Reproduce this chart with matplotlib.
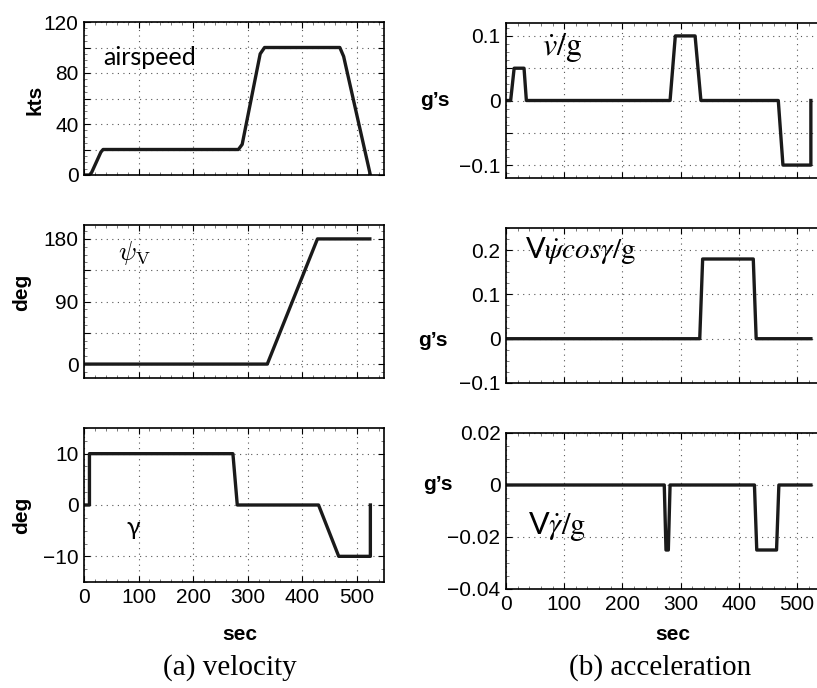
import matplotlib
matplotlib.use('Agg')
import matplotlib.pyplot as plt
from matplotlib.ticker import AutoMinorLocator

plt.rcParams['font.family'] = ['Liberation Sans', 'DejaVu Sans']
plt.rcParams['font.size'] = 15

# (a) velocity
airspeed_t = [0, 10, 14, 31, 35, 283, 290, 323, 331, 469, 476, 525]
airspeed_kts = [0, 0, 2, 18, 20, 20, 24, 95, 100, 100, 93, 0]
heading_t = [0, 336, 428, 524]
heading_deg = [0, 0, 180, 180]
gamma_t = [0, 10, 10, 273, 281, 430, 467, 525, 525]
gamma_deg = [0, 0, 10, 10, 0, 0, -10, -10, 0]

# (b) acceleration
vdot_t = [0, 8, 14, 31, 35, 282, 291, 325, 335, 468, 476, 524, 524]
vdot_g = [0, 0, 0.05, 0.05, 0, 0, 0.1, 0.1, 0, 0, -0.1, -0.1, 0]
turn_t = [0, 333, 338, 425, 430, 524]
turn_g = [0, 0, 0.18, 0.18, 0, 0]
climb_t = [0, 272, 275, 279, 282, 427, 431, 465, 469, 524]
climb_g = [0, 0, -0.025, -0.025, 0, 0, -0.025, -0.025, 0, 0]

xticks = [0, 100, 200, 300, 400, 500]

W, H = 817, 688
fig = plt.figure(figsize=(W/100, H/100), dpi=100)


def mkax(x0, x1, top, bot):
    return fig.add_axes([x0/W, 1-bot/H, (x1-x0)/W, (bot-top)/H])


def style(ax, yticks, ylabels, ylim, showx):
    ax.set_xlim(0, 550)
    ax.set_ylim(*ylim)
    ax.set_xticks(xticks)
    ax.set_xticklabels([str(t) for t in xticks] if showx else [])
    ax.set_yticks(yticks)
    ax.set_yticklabels(ylabels)
    ax.xaxis.set_minor_locator(AutoMinorLocator(5))
    ax.yaxis.set_minor_locator(AutoMinorLocator(4))
    ax.tick_params(which='both', direction='in', top=True, right=True,
                   labelsize=15, pad=4)
    ax.tick_params(which='major', length=4, width=0.8)
    ax.tick_params(which='minor', length=2, width=0.5, color='#444444')
    ax.grid(True, which='major', linestyle=(0, (1, 4)), color='#555555', lw=0.8)
    for s in ax.spines.values():
        s.set_linewidth(1.2)


lw = 2.4
a1 = mkax(84, 384, 22, 175)
a1.plot(airspeed_t, airspeed_kts, color='#1a1a1a', lw=lw)
style(a1, [0, 20, 40, 60, 80, 100, 120], ['0', '', '40', '', '80', '', '120'], (0, 120), False)
a1.text(35, 92, 'airspeed', fontsize=18, family='Lato', va='center')

a2 = mkax(84, 384, 225, 378)
a2.plot(heading_t, heading_deg, color='#1a1a1a', lw=lw)
style(a2, [0, 45, 90, 135, 180], ['0', '', '90', '', '180'], (-20, 200), False)
a2.text(62, 160, r'$\psi_{\rm V}$', fontsize=19, va='center', math_fontfamily='cm')

a3 = mkax(84, 384, 428, 582)
a3.plot(gamma_t, gamma_deg, color='#1a1a1a', lw=lw)
style(a3, [-10, 0, 10], ['\u221210', '0', '10'], (-15, 15), True)
a3.text(78, -4.3, '\u03b3', fontsize=18, family='Lato', va='center')

b1 = mkax(506, 826, 23, 178)
b1.plot(vdot_t, vdot_g, color='#1a1a1a', lw=lw)
style(b1, [-0.1, -0.05, 0, 0.05, 0.1], ['\u22120.1', '', '0', '', '0.1'], (-0.12, 0.12), False)
b1.text(62, 0.082, r'$\dot{v}/\mathrm{g}$', fontsize=23, va='center', math_fontfamily='stix')

b2 = mkax(506, 826, 228, 383)
b2.plot(turn_t, turn_g, color='#1a1a1a', lw=lw)
style(b2, [-0.1, 0, 0.1, 0.2], ['\u22120.1', '0', '0.1', '0.2'], (-0.1, 0.25), False)
b2.text(33, 0.2, r'V$\dot{\psi}\mathit{cos}\gamma/\mathrm{g}$', fontsize=21,
        family='Lato', va='center', math_fontfamily='stix')

b3 = mkax(506, 826, 433, 589)
b3.plot(climb_t, climb_g, color='#1a1a1a', lw=lw)
style(b3, [-0.04, -0.02, 0, 0.02], ['\u22120.04', '\u22120.02', '0', '0.02'], (-0.04, 0.02), True)
b3.text(38, -0.016, r'V$\dot{\gamma}/\mathrm{g}$', fontsize=22,
        family='Lato', va='center', math_fontfamily='stix')

# axis labels
bold = dict(fontsize=15, fontweight='bold', ha='center', va='center')
fig.text(35/W, 1-100/H, 'kts', rotation=90, **bold)
fig.text(22/W, 1-292/H, 'deg', rotation=90, **bold)
fig.text(22/W, 1-515/H, 'deg', rotation=90, **bold)
fig.text(435/W, 1-100/H, 'g\u2019s', **bold)
fig.text(433/W, 1-340/H, 'g\u2019s', **bold)
fig.text(438/W, 1-485/H, 'g\u2019s', **bold)
fig.text(240/W, 1-635/H, 'sec', **bold)
fig.text(673/W, 1-635/H, 'sec', **bold)

cap = dict(fontsize=21, family='Liberation Serif', ha='center', va='center')
fig.text(230/W, 1-668/H, '(a) velocity', **cap)
fig.text(660/W, 1-668/H, '(b) acceleration', **cap)

fig.savefig('out.png', dpi=100)
